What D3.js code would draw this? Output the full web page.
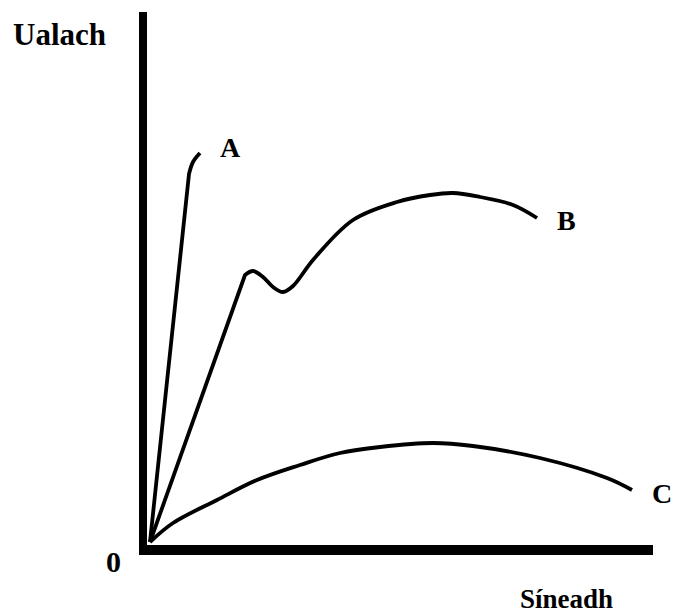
<!DOCTYPE html>
<html>
<head>
<meta charset="utf-8">
<script src="https://cdn.jsdelivr.net/npm/d3@7"></script>
<style>
  html, body { margin: 0; padding: 0; background: #fff; }
  svg { display: block; }
</style>
</head>
<body>
<svg id="chart" width="675" height="614"></svg>
<script>
// Data (extension, load) in arbitrary units 0..100
const curveA = [[0,0],[7.8,73.6],[8.6,76.0],[10,77.8]];
const curveB = [[0,0],[19,53.4],[20.6,54.2],[22.6,53.0],[24.6,51.0],[26.6,50.0],[28.6,51.2],[32.6,56.4],[40.6,64.4],[49.4,68.0],[56,69.4],[60.6,69.8],[66,69.0],[72.6,67.4],[77.4,64.8]];
const curveC = [[0,0],[4.6,3.8],[13.4,8.4],[21.4,12.4],[30,15.4],[38,17.8],[46,19.0],[56.6,19.8],[64.6,19.2],[78,16.8],[91.4,12.8],[96.4,10.4]];
// number of initial straight segments for each curve
const straightSegs = [1, 1, 0];
const curveNames = ["A","B","C"];
const axisLabels = { y: "Ualach", x: "Síneadh", origin: "0" };

const FONT = "'Liberation Serif', 'Times New Roman', serif";
const svg = d3.select("#chart");
const x = d3.scaleLinear().domain([0,100]).range([150,650]);
const y = d3.scaleLinear().domain([0,100]).range([542,42]);

// Axes (thick lines)
const yAxisX = x(0) - 7;
const xAxisY = y(0) + 8;
svg.append("line")
  .attr("x1", yAxisX).attr("x2", yAxisX)
  .attr("y1", 12).attr("y2", xAxisY + 5)
  .attr("stroke", "#000").attr("stroke-width", 8);
svg.append("line")
  .attr("x1", yAxisX - 4).attr("x2", x(100) + 3)
  .attr("y1", xAxisY).attr("y2", xAxisY)
  .attr("stroke", "#000").attr("stroke-width", 10);

const straight = d3.line().x(d => x(d[0])).y(d => y(d[1])).curve(d3.curveLinear);
const smooth = d3.line().x(d => x(d[0])).y(d => y(d[1])).curve(d3.curveCatmullRom.alpha(0.5));

[curveA, curveB, curveC].forEach((c, i) => {
  const k = straightSegs[i];
  let d = "";
  if (k > 0) d += straight(c.slice(0, k + 1));
  const rest = c.slice(k);
  const s = smooth(rest);
  d += (k > 0) ? s.replace(/^M[^LC]*/, "") : s;
  svg.append("path")
    .attr("d", d)
    .attr("fill", "none")
    .attr("stroke", "#000")
    .attr("stroke-width", 3.8)
    .attr("stroke-linejoin", "round");
});

function label(t, px, py, size, anchor) {
  svg.append("text").attr("x", px).attr("y", py)
    .attr("font-family", FONT).attr("font-weight", "bold")
    .attr("font-size", size).attr("text-anchor", anchor || "start")
    .attr("fill", "#000").text(t);
}

// Curve labels
const labelPos = [[220,157],[557,230],[652,503]];
curveNames.forEach((n,i) => label(n, labelPos[i][0], labelPos[i][1], 28));

label(axisLabels.y, 13, 45, 31);
label(axisLabels.x, 613, 608, 27, "end");
label(axisLabels.origin, 106, 572, 30);
</script>
</body>
</html>
